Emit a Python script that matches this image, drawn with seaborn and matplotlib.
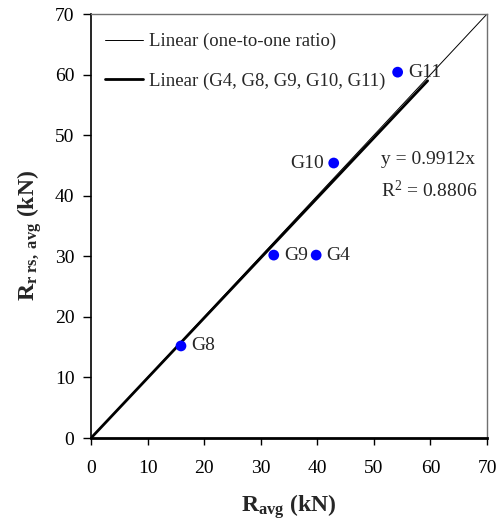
import matplotlib
matplotlib.use("Agg")
import matplotlib.pyplot as plt
import seaborn as sns
import numpy as np
import pandas as pd

labels = ["G4", "G8", "G9", "G10", "G11"]
r_avg = [39.8, 15.9, 32.3, 42.9, 54.2]
r_rrs = [30.2, 15.2, 30.2, 45.4, 60.4]
slope = 0.9912
r2 = 0.8806
fit_x = [0, 59.5]
one_x = [0, 70]
ticks = [0, 10, 20, 30, 40, 50, 60, 70]

sns.set_theme(style="white")
plt.rcParams['font.family'] = ['Liberation Serif', 'DejaVu Serif']
plt.rcParams['mathtext.fontset'] = 'custom'
plt.rcParams['mathtext.rm'] = 'Liberation Serif'
plt.rcParams['mathtext.bf'] = 'Liberation Serif:bold'
plt.rcParams['mathtext.it'] = 'Liberation Serif:italic'

fig = plt.figure(figsize=(5.04, 5.23), dpi=100)
ax = fig.add_axes([0.1806, 0.1625, 0.9663 - 0.1806, 0.9732 - 0.1625])

one_df = pd.DataFrame({"x": one_x, "y": one_x})
fit_df = pd.DataFrame({"x": fit_x, "y": [v * slope for v in fit_x]})
sns.lineplot(data=one_df, x="x", y="y", ax=ax, color="black", lw=0.7,
             label="Linear (one-to-one ratio)")
sns.lineplot(data=fit_df, x="x", y="y", ax=ax, color="black", lw=2.0,
             label="Linear (G4, G8, G9, G10, G11)")
pts = pd.DataFrame({"x": r_avg, "y": r_rrs, "lab": labels})
sns.scatterplot(data=pts, x="x", y="y", ax=ax, color="#0000ff", s=60,
                edgecolor="none", zorder=5, legend=False)
for xv, yv, lab in zip(r_avg, r_rrs, labels):
    if lab == "G10":
        ax.text(xv - 1.8, yv, lab, ha="right", va="center", fontsize=14)
    else:
        ax.text(xv + 1.8, yv, lab, ha="left", va="center", fontsize=14)

ax.text(51.3, 46.0, f"y = {slope}x", fontsize=14, ha="left", va="center")
ax.text(51.3, 40.8, f"R$^2$ = {r2}", fontsize=14, ha="left", va="center")

ax.set_xlim(0, 70)
ax.set_ylim(0, 70)
ax.set_xticks(ticks)
ax.set_yticks(ticks)
ax.tick_params(axis='both', labelsize=14, direction='out', width=1,
               colors='black', bottom=True, left=True)
ax.tick_params(axis='x', length=5, pad=11)
ax.tick_params(axis='y', length=6, pad=6)
ax.set_xlabel(r"$\mathbf{R_{avg}}$ (kN)", fontsize=17, fontweight='bold')
ax.set_ylabel(r"$\mathbf{R_{r\ rs,\ avg}}$ (kN)", fontsize=17, fontweight='bold')
ax.xaxis.set_label_coords(0.5, -0.128)
ax.yaxis.set_label_coords(-0.12, 0.477)

for side in ["top", "right"]:
    ax.spines[side].set_color("#707070")
    ax.spines[side].set_linewidth(1)
ax.spines["bottom"].set_color("black")
ax.spines["bottom"].set_linewidth(2)
ax.spines["left"].set_color("black")
ax.spines["left"].set_linewidth(1.2)

leg = ax.legend(loc="upper left", bbox_to_anchor=(0.016, 0.973), frameon=False,
                fontsize=13.5, handlelength=2.05, borderaxespad=0, borderpad=0.4,
                labelspacing=1.2, handletextpad=0.3)

fig.savefig("out.png", dpi=100)
